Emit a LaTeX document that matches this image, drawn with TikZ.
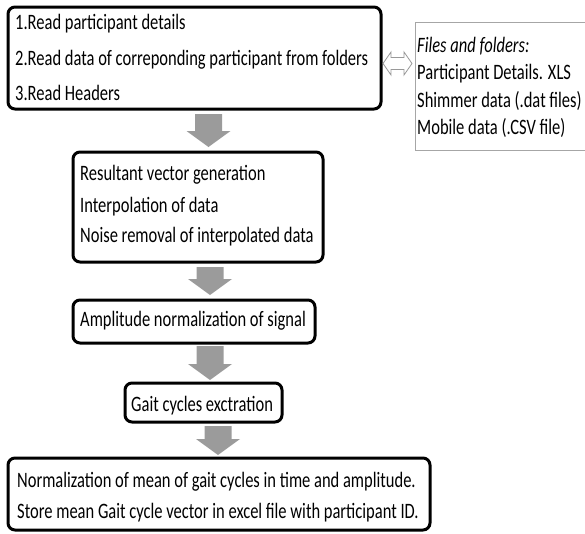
\documentclass[tikz,border=0pt]{standalone}
\usepackage{fontspec}
\setmainfont{Carlito}[FakeStretch=0.75]
\newcommand{\gblock}[3]{% center x, top y, tip y
  \fill[garrowstyle] (#1-13.5,#2) -- (#1+13.5,#2) -- (#1+13.5,#3-16) -- (#1+22,#3-16)
     -- (#1,#3) -- (#1-22,#3-16) -- (#1-13.5,#3-16) -- cycle;}
\begin{document}
\begin{tikzpicture}[x=1pt,y=-1pt,
  stepbox/.style={draw=black,line width=3pt,rounded corners=7pt,fill=white,inner sep=0pt},
  filebox/.style={draw=gray!70,line width=1pt,fill=white,inner sep=0pt},
  txt/.style={anchor=base west,inner sep=0pt,font=\fontsize{22}{26}\selectfont},
  garrowstyle/.style={fill=gray!95!black!75,draw=none}]
\useasboundingbox (0,0) rectangle (585,533);
\clip (0,0) rectangle (585,533);
% boxes
\node[stepbox,minimum width=373pt,minimum height=102pt] (b1) at (194.5,58) {};
\node[filebox,minimum width=185pt,minimum height=128pt] (files) at (507.5,86) {};
\node[stepbox,minimum width=250pt,minimum height=110pt] (b2) at (198,207) {};
\node[stepbox,minimum width=242pt,minimum height=43pt] (b3) at (194,321.5) {};
\node[stepbox,minimum width=157pt,minimum height=39pt] (b4) at (203.5,402.5) {};
\node[stepbox,minimum width=422pt,minimum height=72pt] (b5) at (219,494) {};
% texts
\node[txt] (t11) at (15,29) {1.Read participant details};
\node[txt] (t12) at (15,65) {2.Read data of correponding participant from folders};
\node[txt] (t13) at (15,100) {3.Read Headers};
\node[txt] (f0) at (417,52) {\itshape Files and folders:};
\node[txt] (f1) at (417,79) {Participant Details. XLS};
\node[txt] (f2) at (417,107) {Shimmer data (.dat files)};
\node[txt] (f3) at (417,134) {Mobile data (.CSV file)};
\node[txt] (t21) at (80,180) {Resultant vector generation};
\node[txt] (t22) at (80,212) {Interpolation of data};
\node[txt] (t23) at (80,242) {Noise removal of interpolated data};
\node[txt] (t31) at (80,326) {Amplitude normalization of signal};
\node[txt] (t41) at (131,411) {Gait cycles exctration};
\node[txt] (t51) at (17,487) {Normalization of mean of gait cycles in time and amplitude.};
\node[txt] (t52) at (17,518) {Store mean Gait cycle vector in excel file with participant ID.};
% gray block arrows between boxes
\gblock{208.5}{114}{147}
\gblock{210}{267}{295}
\gblock{210}{346}{380}
\gblock{218}{426}{455}
% double arrow between b1 and files
\draw[gray!80,line width=0.8pt,fill=white]
  (383,63.5) -- (391,52) -- (391,57.5) -- (404,57.5) -- (404,52) -- (412,63.5)
  -- (404,75) -- (404,69.5) -- (391,69.5) -- (391,75) -- cycle;
\end{tikzpicture}
\end{document}
